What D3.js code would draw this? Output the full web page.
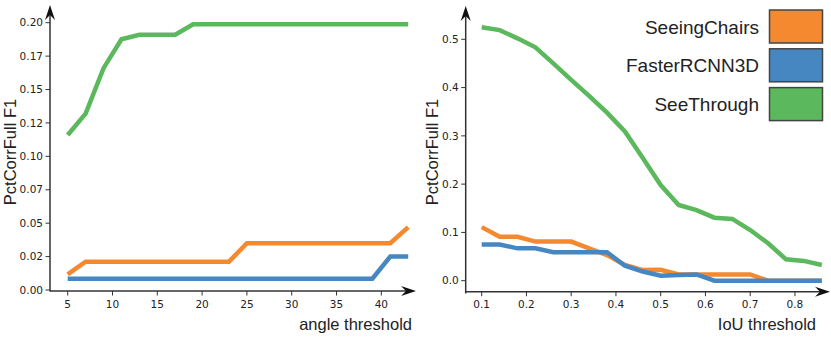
<!DOCTYPE html>
<meta charset="utf-8">
<style>
  body { margin: 0; background: #fff; }
  svg { display: block; }
</style>
<svg id="chart" width="831" height="339"></svg>

<script src="https://d3js.org/d3.v7.min.js"></script>
<script>

// methods, in plotting order
var methods = ["SeeingChairs", "FasterRCNN3D", "SeeThrough"]
var colors = ["#f5892f", "#4687c2", "#5cb85c"]

// left panel: angle threshold
var angle = [5, 7, 9, 11, 13, 15, 17, 19, 21, 23, 25, 27, 29, 31, 33, 35, 37, 39, 41, 43]
var angleSeeingChairs = [0.0117, 0.0212, 0.0212, 0.0212, 0.0212, 0.0212, 0.0212, 0.0212, 0.0212, 0.0212,
  0.035, 0.035, 0.035, 0.035, 0.035, 0.035, 0.035, 0.035, 0.035, 0.047]
var angleFasterRCNN3D = [0.0085, 0.0085, 0.0085, 0.0085, 0.0085, 0.0085, 0.0085, 0.0085, 0.0085, 0.0085,
  0.0085, 0.0085, 0.0085, 0.0085, 0.0085, 0.0085, 0.0085, 0.0085, 0.025, 0.025]
var angleSeeThrough = [0.116, 0.132, 0.166, 0.1876, 0.191, 0.191, 0.191, 0.1988, 0.1988, 0.1988,
  0.1988, 0.1988, 0.1988, 0.1988, 0.1988, 0.1988, 0.1988, 0.1988, 0.1988, 0.1988]
var angleXTicks = [5, 10, 15, 20, 25, 30, 35, 40]
var angleYTicks = [0, 0.025, 0.05, 0.075, 0.1, 0.125, 0.15, 0.175, 0.2]
var angleYLabels = ["0.00", "0.02", "0.05", "0.07", "0.10", "0.12", "0.15", "0.17", "0.20"]

// right panel: IoU threshold
var iou = [0.10, 0.14, 0.18, 0.22, 0.26, 0.30, 0.34, 0.38, 0.42, 0.46,
  0.50, 0.54, 0.58, 0.62, 0.66, 0.70, 0.74, 0.78, 0.82, 0.86]
var iouSeeingChairs = [0.111, 0.091, 0.091, 0.081, 0.081, 0.081, 0.067, 0.053, 0.0325, 0.022,
  0.0225, 0.013, 0.013, 0.013, 0.013, 0.013, 0, 0, 0, 0]
var iouFasterRCNN3D = [0.075, 0.075, 0.067, 0.067, 0.059, 0.059, 0.059, 0.059, 0.031, 0.019,
  0.0105, 0.012, 0.013, 0, 0, 0, 0, 0, 0, 0]
var iouSeeThrough = [0.525, 0.519, 0.502, 0.4835, 0.450, 0.416, 0.383, 0.348, 0.309, 0.254,
  0.198, 0.157, 0.146, 0.1305, 0.128, 0.105, 0.0775, 0.0443, 0.041, 0.0325]
var iouXTicks = [0.1, 0.2, 0.3, 0.4, 0.5, 0.6, 0.7, 0.8]
var iouYTicks = [0, 0.1, 0.2, 0.3, 0.4, 0.5]

var svg = d3.select("#chart")
var axisColor = "#333"
var tickFont = "'DejaVu Sans', sans-serif"
var labelFont = "'Liberation Sans', Arial, sans-serif"

// arrow head pointing along (dx, dy)
function arrowHead(g, x, y, dx, dy) {
  var len = 15, half = 5, notch = 10
  var px = -dy, py = dx
  var pts = [
    [x, y],
    [x - dx * len + px * half, y - dy * len + py * half],
    [x - dx * notch, y - dy * notch],
    [x - dx * len - px * half, y - dy * len - py * half]
  ]
  g.append("path")
    .attr("d", "M" + pts.map(function(p) { return p.join(",") }).join("L") + "Z")
    .attr("fill", "#111")
}

function panel(opt) {
  var g = svg.append("g")
  var x = d3.scaleLinear().domain(opt.xDomain).range(opt.xRange)
  var y = d3.scaleLinear().domain(opt.yDomain).range(opt.yRange)

  // y ticks
  opt.yTicks.forEach(function(t, i) {
    var yy = y(t)
    g.append("line")
      .attr("x1", opt.axisX - 4.5).attr("x2", opt.axisX)
      .attr("y1", yy).attr("y2", yy)
      .attr("stroke", axisColor).attr("stroke-width", 1)
    g.append("text")
      .attr("x", opt.axisX - 7).attr("y", yy)
      .attr("dy", "0.35em")
      .attr("text-anchor", "end")
      .style("font-family", tickFont).style("font-size", "10.5px")
      .attr("fill", "#222")
      .text(opt.yLabels ? opt.yLabels[i] : d3.format(".1f")(t))
  })

  // x ticks
  opt.xTicks.forEach(function(t) {
    var xx = x(t)
    g.append("line")
      .attr("x1", xx).attr("x2", xx)
      .attr("y1", opt.axisY).attr("y2", opt.axisY + 4.5)
      .attr("stroke", axisColor).attr("stroke-width", 1)
    g.append("text")
      .attr("x", xx).attr("y", opt.axisY + 13)
      .attr("dy", "0.35em")
      .attr("text-anchor", "middle")
      .style("font-family", tickFont).style("font-size", "10.5px")
      .attr("fill", "#222")
      .text(opt.xFormat(t))
  })

  // lines
  var line = d3.line()
    .x(function(d) { return x(d[0]) })
    .y(function(d) { return y(d[1]) })
  opt.series.forEach(function(s, i) {
    g.append("path")
      .datum(opt.xs.map(function(v, j) { return [v, s[j]] }))
      .attr("d", line)
      .attr("fill", "none")
      .attr("stroke", colors[i])
      .attr("stroke-width", 4.5)
  })

  // spines with arrows
  g.append("line")
    .attr("x1", opt.axisX).attr("x2", opt.axisX)
    .attr("y1", opt.axisBottom).attr("y2", opt.arrowTop + 8)
    .attr("stroke", axisColor).attr("stroke-width", 1.5)
  arrowHead(g, opt.axisX, opt.arrowTop, 0, -1)
  g.append("line")
    .attr("x1", opt.axisX).attr("x2", opt.arrowRight - 8)
    .attr("y1", opt.axisY).attr("y2", opt.axisY)
    .attr("stroke", axisColor).attr("stroke-width", 1.5)
  arrowHead(g, opt.arrowRight, opt.axisY, 1, 0)

  // axis labels
  g.append("text")
    .attr("x", opt.xLabelRight).attr("y", 330)
    .attr("text-anchor", "end")
    .style("font-family", labelFont).style("font-size", "16.5px")
    .attr("fill", "#222")
    .text(opt.xLabel)
  g.append("text")
    .attr("transform", "translate(" + opt.yLabelX + ",152) rotate(-90)")
    .attr("text-anchor", "middle")
    .attr("dy", "0.35em")
    .style("font-family", labelFont).style("font-size", "16.5px")
    .attr("fill", "#222")
    .text("PctCorrFull F1")
}

panel({
  xs: angle,
  series: [angleSeeingChairs, angleFasterRCNN3D, angleSeeThrough],
  xDomain: [5, 43], xRange: [67.7, 408.2],
  yDomain: [0, 0.2], yRange: [290, 22.7],
  xTicks: angleXTicks, xFormat: d3.format("d"),
  yTicks: angleYTicks, yLabels: angleYLabels,
  axisX: 50, axisY: 291, axisBottom: 291.5, arrowTop: 5, arrowRight: 416,
  xLabel: "angle threshold", xLabelRight: 412, yLabelX: 10
})

panel({
  xs: iou,
  series: [iouSeeingChairs, iouFasterRCNN3D, iouSeeThrough],
  xDomain: [0.1, 0.86], xRange: [481.7, 821.8],
  yDomain: [0, 0.5], yRange: [280.7, 39.3],
  xTicks: iouXTicks, xFormat: d3.format(".1f"),
  yTicks: iouYTicks,
  axisX: 465.7, axisY: 291.7, axisBottom: 293.5, arrowTop: 6, arrowRight: 830,
  xLabel: "IoU threshold", xLabelRight: 816, yLabelX: 432
})

// legend
var legend = svg.append("g")
methods.forEach(function(m, i) {
  var top = 10 + i * 38.8
  legend.append("rect")
    .attr("x", 769.5).attr("y", top)
    .attr("width", 53).attr("height", 33)
    .attr("fill", colors[i])
    .attr("stroke", "#444").attr("stroke-width", 1.5)
  legend.append("text")
    .attr("x", 759).attr("y", top + 17)
    .attr("dy", "0.35em")
    .attr("text-anchor", "end")
    .style("font-family", labelFont).style("font-size", "19px")
    .attr("fill", "#222")
    .text(m)
})

</script>
